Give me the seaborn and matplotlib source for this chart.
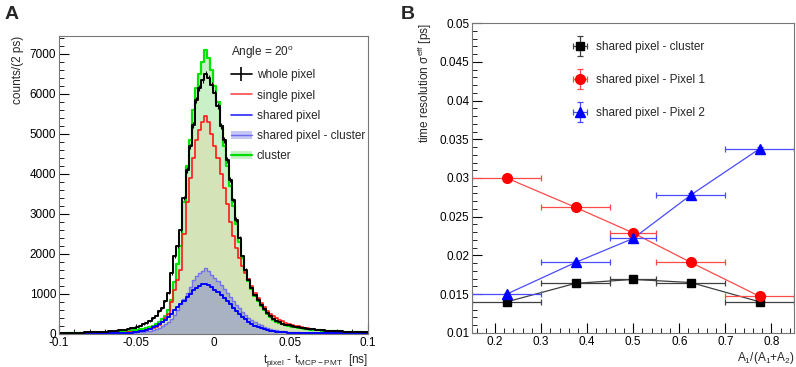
import numpy as np
import pandas as pd
import matplotlib
matplotlib.use('Agg')
import matplotlib.pyplot as plt
import seaborn as sns
from matplotlib.lines import Line2D
from matplotlib.patches import Patch
from matplotlib.container import ErrorbarContainer
from matplotlib.legend_handler import HandlerErrorbar
from matplotlib.ticker import MultipleLocator

# ---- panel A: time difference histograms, 2 ps bins from -0.1 to 0.1 ns ----
bin_edges = [round(-0.1 + 0.002 * k, 4) for k in range(101)]
bin_centers = [(a + b) / 2 for a, b in zip(bin_edges[:-1], bin_edges[1:])]

whole_pixel = [
    25, 25, 28, 30, 30, 32, 35, 35, 38, 40,
    42, 45, 48, 52, 56, 60, 65, 72, 80, 88,
    98, 110, 125, 140, 160, 185, 210, 240, 275, 320,
    400, 460, 570, 650, 820, 1020, 1520, 1940, 2190, 2600,
    3400, 4100, 4690, 5230, 5850, 6150, 6350, 6500, 6400, 6230,
    6020, 5700, 5190, 4850, 4350, 3850, 3350, 2860, 2400, 1940,
    1600, 1360, 1150, 980, 860, 730, 620, 520, 440, 380,
    330, 290, 260, 235, 215, 195, 180, 165, 150, 140,
    130, 120, 112, 105, 98, 92, 86, 80, 75, 70,
    66, 62, 58, 55, 52, 49, 46, 44, 42, 40]

single_pixel = [
    5, 5, 6, 6, 7, 7, 8, 8, 9, 10,
    11, 12, 13, 14, 15, 17, 19, 21, 23, 26,
    29, 33, 37, 42, 48, 55, 65, 78, 95, 115,
    140, 180, 230, 300, 390, 500, 800, 1100, 1350, 1600,
    2500, 3300, 3900, 4400, 4850, 5100, 5300, 5450, 5300, 5000,
    4700, 4400, 4000, 3650, 3250, 2800, 2450, 2150, 1900, 1700,
    1520, 1380, 1200, 1020, 900, 780, 680, 580, 500, 440,
    390, 350, 315, 285, 255, 230, 208, 190, 172, 158,
    145, 132, 120, 110, 100, 92, 85, 78, 72, 66,
    61, 57, 53, 49, 46, 43, 40, 38, 36, 34]

shared_pixel = [
    3, 3, 3, 4, 4, 4, 5, 5, 6, 6,
    7, 7, 8, 9, 10, 11, 12, 14, 16, 18,
    21, 25, 30, 36, 44, 54, 66, 82, 102, 130,
    165, 205, 250, 300, 360, 430, 510, 590, 670, 750,
    830, 920, 1010, 1090, 1160, 1210, 1245, 1260, 1220, 1170,
    1110, 1050, 980, 900, 820, 740, 660, 580, 500, 430,
    365, 305, 250, 205, 170, 140, 115, 95, 80, 68,
    58, 50, 44, 40, 36, 33, 31, 29, 27, 26,
    25, 24, 23, 22, 21, 20, 19, 18, 17, 16,
    15, 15, 14, 14, 13, 13, 12, 12, 11, 11]

shared_cluster = [
    2, 2, 2, 3, 3, 3, 4, 4, 5, 5,
    6, 6, 7, 8, 9, 10, 11, 12, 14, 16,
    18, 21, 24, 28, 33, 39, 46, 55, 66, 80,
    98, 120, 150, 190, 240, 300, 380, 480, 600, 740,
    880, 1020, 1180, 1340, 1450, 1520, 1580, 1640, 1580, 1480,
    1400, 1330, 1220, 1120, 1020, 920, 820, 730, 640, 560,
    480, 410, 350, 300, 255, 215, 180, 150, 125, 105,
    90, 78, 68, 60, 53, 47, 42, 37, 33, 30,
    27, 24, 22, 20, 18, 16, 15, 14, 13, 12,
    11, 10, 9, 9, 8, 8, 7, 7, 6, 6]

cluster = [
    10, 10, 12, 12, 14, 15, 16, 18, 20, 22,
    24, 26, 28, 30, 33, 36, 40, 44, 48, 54,
    60, 66, 74, 82, 92, 104, 118, 135, 155, 180,
    210, 250, 300, 370, 460, 600, 850, 1300, 1750, 2200,
    3300, 4200, 4850, 5600, 6150, 6500, 6800, 7100, 6900, 6600,
    6200, 5800, 5200, 4700, 4200, 3700, 3200, 2750, 2300, 1900,
    1580, 1330, 1120, 960, 830, 700, 590, 500, 420, 360,
    310, 270, 240, 215, 195, 178, 162, 150, 138, 128,
    118, 110, 102, 95, 88, 82, 76, 71, 66, 62,
    58, 54, 51, 48, 45, 42, 40, 38, 36, 34]

# ---- panel B: effective time resolution vs amplitude fraction ----
frac_x = [0.225, 0.375, 0.5, 0.625, 0.775]
frac_xerr = [0.075, 0.075, 0.05, 0.075, 0.075]
res_cluster = [0.0140, 0.0164, 0.0169, 0.0165, 0.0140]
res_pixel1 = [0.0300, 0.0262, 0.0229, 0.0191, 0.0147]
res_pixel2 = [0.0150, 0.0191, 0.0222, 0.0278, 0.0338]
res_yerr = [0.0002, 0.0002, 0.0002, 0.0002, 0.0002]

hist = pd.DataFrame({'t': bin_centers, 'whole': whole_pixel, 'single': single_pixel,
                     'shared': shared_pixel, 'shared_cl': shared_cluster, 'cluster': cluster})

sns.set_theme(style='ticks')
plt.rcParams['font.family'] = ['Liberation Sans', 'DejaVu Sans']
plt.rcParams['mathtext.default'] = 'regular'
plt.rcParams['font.size'] = 8.5

fig = plt.figure(figsize=(7.96, 3.67), dpi=100)
axA = fig.add_axes([0.074, 0.090, 0.388, 0.812])
axB = fig.add_axes([0.593, 0.093, 0.405, 0.844])

# filled areas first, then outlines
sns.histplot(data=hist, x='t', weights='cluster', bins=bin_edges, element='step',
             fill=True, color='#c9f0c6', alpha=1, linewidth=0, ax=axA)
sns.histplot(data=hist, x='t', weights='single', bins=bin_edges, element='step',
             fill=True, color='#d5e4b8', alpha=1, linewidth=0, ax=axA)
sns.histplot(data=hist, x='t', weights='shared_cl', bins=bin_edges, element='step',
             fill=True, color='#a9b2c2', alpha=1, linewidth=0, ax=axA)

outlines = [('cluster', '#00e400', 1.6), ('single', '#ff1a1a', 1.2),
            ('shared_cl', '#7373ee', 1.0), ('shared', '#0000ff', 1.4),
            ('whole', 'black', 1.4)]
for col, c, lw in outlines:
    sns.histplot(data=hist, x='t', weights=col, bins=bin_edges, element='step',
                 fill=False, color=c, linewidth=lw, ax=axA)

# statistical error ticks on the whole-pixel histogram
axA.errorbar(hist['t'], hist['whole'], yerr=np.sqrt(hist['whole']), fmt='none',
             ecolor='black', elinewidth=0.8)

axA.set_xlim(-0.1, 0.1)
axA.set_ylim(0, 7450)
axA.xaxis.set_major_locator(MultipleLocator(0.05))
axA.xaxis.set_minor_locator(MultipleLocator(0.01))
axA.yaxis.set_major_locator(MultipleLocator(1000))
axA.yaxis.set_minor_locator(MultipleLocator(200))
axA.set_xticks([-0.1, -0.05, 0, 0.05, 0.1], ['-0.1', '-0.05', '0', '0.05', '0.1'])
axA.set_xlabel('t$_{pixel}$ - t$_{MCP-PMT}$  [ns]', loc='right', fontsize=8.5, labelpad=2)
axA.set_ylabel('counts/(2 ps)', loc='top', fontsize=8.5, labelpad=4)

handlesA = [Line2D([], [], color='black', lw=1.2, marker='|', markersize=10, mew=1.2),
            Line2D([], [], color='#ff4a4a', lw=1.2),
            Line2D([], [], color='#2a2aff', lw=1.2),
            (Patch(facecolor='#c6c6f4', edgecolor='none'), Line2D([], [], color='#6a6af0', lw=1.0)),
            (Patch(facecolor='#c6f0c6', edgecolor='none'), Line2D([], [], color='#00dd00', lw=1.6))]
labelsA = ['whole pixel', 'single pixel', 'shared pixel', 'shared pixel - cluster', 'cluster']
legA = axA.legend(handlesA, labelsA, title='Angle = 20$^{o}$', loc='upper left',
                  bbox_to_anchor=(0.53, 1.0), frameon=False, fontsize=8.5,
                  title_fontsize=8.5, handlelength=1.8, handletextpad=0.4,
                  labelspacing=0.7, borderpad=0.2, alignment='left')

# ---- panel B ----
series = [(res_cluster, 's', 'black', '#404040', 'shared pixel - cluster', 6),
          (res_pixel1, 'o', '#ff0000', '#ff4a4a', 'shared pixel - Pixel 1', 7),
          (res_pixel2, '^', '#0000ff', '#4a4aff', 'shared pixel - Pixel 2', 6.5)]
for yv, mk, mc, lc, lab, ms in series:
    sns.lineplot(x=frac_x, y=yv, color=lc, linewidth=0.9, ax=axB, legend=False)
    axB.errorbar(frac_x, yv, xerr=frac_xerr, yerr=res_yerr, fmt=mk, color=mc,
                 ecolor=lc, elinewidth=0.9, capsize=2.2, capthick=0.9,
                 markersize=ms, label=lab)

axB.set_xlim(0.15, 0.85)
axB.set_ylim(0.01, 0.05)
axB.xaxis.set_major_locator(MultipleLocator(0.1))
axB.xaxis.set_minor_locator(MultipleLocator(0.02))
axB.yaxis.set_major_locator(MultipleLocator(0.005))
axB.yaxis.set_minor_locator(MultipleLocator(0.001))
axB.set_xticks([0.2, 0.3, 0.4, 0.5, 0.6, 0.7, 0.8], ['0.2', '0.3', '0.4', '0.5', '0.6', '0.7', '0.8'])
axB.set_yticks([0.01, 0.015, 0.02, 0.025, 0.03, 0.035, 0.04, 0.045, 0.05],
               ['0.01', '0.015', '0.02', '0.025', '0.03', '0.035', '0.04', '0.045', '0.05'])
axB.set_xlabel('A$_{1}$/(A$_{1}$+A$_{2}$)', loc='right', fontsize=8.5, labelpad=2)
axB.set_ylabel('time resolution σ$^{eff}$ [ps]', loc='top', fontsize=8.5, labelpad=4)
axB.legend(loc='upper left', bbox_to_anchor=(0.27, 0.975), frameon=False, fontsize=8.5,
           handlelength=1.7, handletextpad=0.5, labelspacing=1.75,
           handler_map={ErrorbarContainer: HandlerErrorbar(xerr_size=0.6, yerr_size=0.85)})

for ax in (axA, axB):
    ax.tick_params(which='both', direction='in', top=False, right=False,
                   labelsize=8.5, pad=2, colors='black')
    ax.tick_params(which='major', length=7, width=0.8)
    ax.tick_params(which='minor', length=3.5, width=0.6)
    for s in ax.spines.values():
        s.set_color('#777777')
        s.set_linewidth(0.8)
    ax.set_facecolor('white')

fig.text(0.006, 0.985, 'A', fontsize=14, fontweight='bold', va='top', ha='left')
fig.text(0.503, 0.985, 'B', fontsize=14, fontweight='bold', va='top', ha='left')

fig.savefig('out.png', dpi=100)
